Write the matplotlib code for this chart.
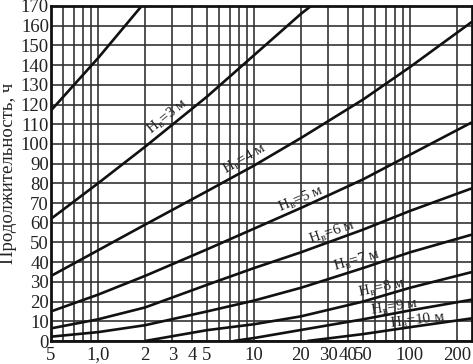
import numpy as np
import matplotlib
matplotlib.use('Agg')
import matplotlib.pyplot as plt
from matplotlib.ticker import LogLocator, FixedLocator, FixedFormatter, NullFormatter

plt.rcParams['font.family'] = ['Liberation Serif', 'DejaVu Serif']
plt.rcParams['mathtext.fontset'] = 'custom'
plt.rcParams['mathtext.rm'] = 'Liberation Serif'

# данные кривых (x - логарифмическая шкала, y - продолжительность, ч)
x_h2 = [0.5, 1, 2]
y_h2 = [117, 143.5, 172]
x_h3 = [0.5, 1, 2, 5, 10, 20, 25]
y_h3 = [62, 80, 98.5, 124, 145, 166, 172]
x_h4 = [0.5, 1, 2, 5, 10, 20, 50, 100, 250]
y_h4 = [33, 46, 59, 76, 89, 103, 122.5, 139, 162]
x_h5 = [0.5, 1, 2, 5, 10, 20, 50, 100, 250]
y_h5 = [15, 23.5, 33, 46.5, 57, 67.5, 82, 94.5, 111]
x_h6 = [0.5, 1, 2, 5, 10, 20, 50, 100, 250]
y_h6 = [6.4, 11, 17, 28.5, 37, 45, 56.5, 66, 77.5]
x_h7 = [0.5, 1, 2, 5, 10, 20, 50, 100, 250]
y_h7 = [2.2, 4.5, 8, 15, 20.5, 27, 37, 45, 54]
x_h8 = [2, 5, 10, 20, 50, 100, 250]
y_h8 = [0, 5.5, 8.5, 12.5, 20, 27, 35]
x_h9 = [7.4, 10, 20, 50, 100, 250]
y_h9 = [0, 1.5, 5.6, 11, 15.5, 21]
x_h10 = [22, 50, 100, 250]
y_h10 = [0, 3.5, 7, 11.5]

curves = [(x_h2, y_h2), (x_h3, y_h3), (x_h4, y_h4), (x_h5, y_h5), (x_h6, y_h6),
          (x_h7, y_h7), (x_h8, y_h8), (x_h9, y_h9), (x_h10, y_h10)]

x_ticks = [0.5, 1, 2, 3, 4, 5, 10, 20, 30, 40, 50, 100, 200]
x_labels = ['5', '1,0', '2', '3', '4', '5', '10', '20', '30', '40', '50', '100', '200']
y_ticks = list(range(0, 171, 10))

# подписи: (текст, x, y, угол)
labels = [
    ('Н$_\\mathrm{в}$=3 м', 2.78, 114, 39),
    ('Н$_\\mathrm{в}$=4 м', 8.7, 92.5, 30),
    ('Н$_\\mathrm{в}$=5 м', 20, 72, 23),
    ('Н$_\\mathrm{в}$=6 м', 31.8, 55, 19),
    ('Н$_\\mathrm{в}$=7 м', 45.5, 41, 16),
    ('Н$_\\mathrm{в}$=8 м', 66, 27, 12),
    ('Н$_\\mathrm{в}$=9 м', 79, 17.5, 9),
    ('Н$_\\mathrm{в}$=10 м', 112, 10.5, 7),
]

fig = plt.figure(figsize=(4.73, 3.64), dpi=100)
ax = fig.add_axes([51 / 473, 23 / 364, 421 / 473, 335 / 364])

for xs, ys in curves:
    ax.plot(xs, ys, color='#111111', lw=1.9, solid_capstyle='butt')

for txt, lx, ly, rot in labels:
    ax.text(lx, ly, txt, rotation=rot, fontsize=11, ha='center', va='center',
            rotation_mode='anchor', color='#222222')

ax.set_xscale('log')
ax.set_xlim(0.5, 250)
ax.set_ylim(0, 170)

ax.xaxis.set_major_locator(FixedLocator(x_ticks))
ax.xaxis.set_major_formatter(FixedFormatter(x_labels))
ax.xaxis.set_minor_locator(LogLocator(base=10, subs=np.arange(1, 10)))
ax.xaxis.set_minor_formatter(NullFormatter())
ax.set_yticks(y_ticks)

ax.grid(True, which='both', color='#333333', lw=1.2)
ax.tick_params(which='both', length=0, labelsize=13.5, colors='#222222')
ax.tick_params(axis='y', pad=1.5)
ax.tick_params(axis='x', pad=4)

for s in ax.spines.values():
    s.set_linewidth(2)
    s.set_color('#111111')

ax.set_ylabel('Продолжительность, ч', fontsize=13.5, color='#222222', labelpad=3)

fig.savefig('out.png', dpi=100)
